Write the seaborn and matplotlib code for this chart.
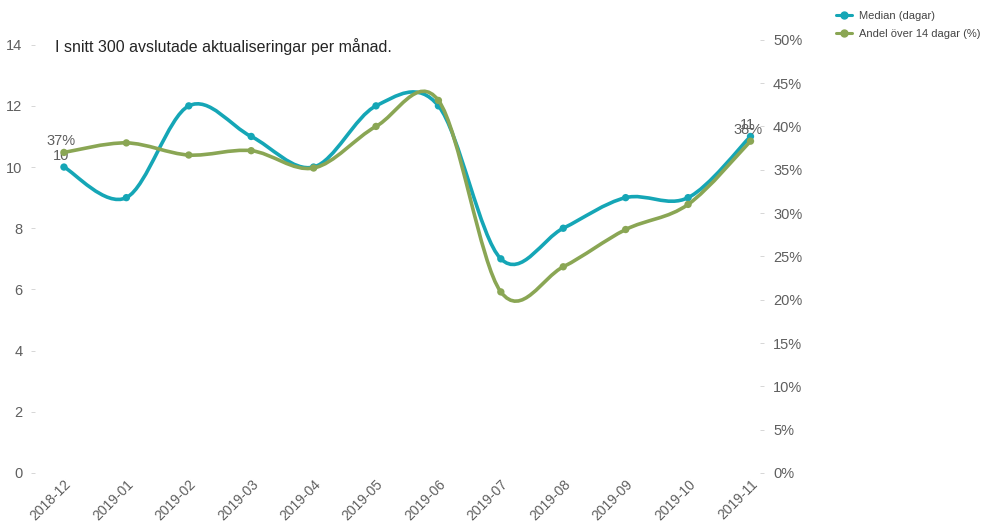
import numpy as np
import pandas as pd
import seaborn as sns
import matplotlib.pyplot as plt
from matplotlib.path import Path
from matplotlib.patches import PathPatch
from matplotlib.lines import Line2D
from matplotlib.ticker import PercentFormatter

# ---- data ----
months = ["2018-12", "2019-01", "2019-02", "2019-03", "2019-04", "2019-05",
          "2019-06", "2019-07", "2019-08", "2019-09", "2019-10", "2019-11"]
median_days = [10, 9, 12, 11, 10, 12, 12, 7, 8, 9, 9, 11]
share_over_14 = [0.37, 0.381, 0.367, 0.372, 0.352, 0.40, 0.43, 0.209, 0.238, 0.281, 0.31, 0.383]
note = "I snitt 300 avslutade aktualiseringar per månad."
# ----------------------------------

teal = "#15a6b6"
green = "#8aa654"
grey = "#5f5f5f"

sns.set_theme(style="white")
plt.rcParams["font.family"] = ["Liberation Sans", "DejaVu Sans"]

df = pd.DataFrame({"month": months, "idx": range(len(months)),
                   "median": median_days, "share": share_over_14})


def smooth_curve(ax, x, y, color):
    # catmull-rom style bezier through the points (rendering only)
    x = np.asarray(x, float)
    y = np.asarray(y, float)
    n = len(x)
    verts = [(x[0], y[0])]
    codes = [Path.MOVETO]
    for i in range(n - 1):
        p0 = i - 1 if i > 0 else i
        p3 = i + 2 if i + 2 < n else i + 1
        c1 = (x[i] + (x[i + 1] - x[p0]) / 6, y[i] + (y[i + 1] - y[p0]) / 6)
        c2 = (x[i + 1] - (x[p3] - x[i]) / 6, y[i + 1] - (y[p3] - y[i]) / 6)
        verts += [c1, c2, (x[i + 1], y[i + 1])]
        codes += [Path.CURVE4] * 3
    ax.add_patch(PathPatch(Path(verts, codes), facecolor="none",
                           edgecolor=color, lw=2.6, capstyle="round", zorder=3))


fig = plt.figure(figsize=(9.98, 5.27), dpi=100)
ax = fig.add_axes([0.035, 0.1025, 0.727, 0.822])
ax2 = ax.twinx()

smooth_curve(ax, df["idx"], df["median"], teal)
sns.scatterplot(data=df, x="idx", y="median", ax=ax, color=teal, s=28,
                edgecolor="none", zorder=4, legend=False)
smooth_curve(ax2, df["idx"], df["share"], green)
sns.scatterplot(data=df, x="idx", y="share", ax=ax2, color=green, s=28,
                edgecolor="none", zorder=4, legend=False)

ax.set_xlim(-0.465, 11.16)
ax.set_ylim(0, 14.16)
ax2.set_ylim(0, 0.5)
ax.set_yticks(range(0, 15, 2))
ax2.set_yticks(np.arange(0, 0.51, 0.05))
ax2.yaxis.set_major_formatter(PercentFormatter(1.0, decimals=0))

ax.set_xticks(df["idx"])
ax.set_xticklabels(months, rotation=45, ha="right", rotation_mode="anchor")
ax.set_xlabel("")
ax.set_ylabel("")
ax2.set_ylabel("")

for a in (ax, ax2):
    for s in a.spines.values():
        s.set_visible(False)
    a.tick_params(axis="y", length=3, width=0.6, color="#d0d0d0",
                  labelcolor=grey, labelsize=10.5, pad=6)
ax.tick_params(axis="x", length=0, labelcolor=grey, labelsize=10, pad=3)

# data labels on first and last points
for i in (0, len(months) - 1):
    ax.annotate(f"{median_days[i]}", (i, median_days[i]), xytext=(-2, 3),
                textcoords="offset points", ha="center", va="bottom",
                color=grey, fontsize=10.5, zorder=5)
    ax2.annotate(f"{share_over_14[i]:.0%}", (i, share_over_14[i]), xytext=(-2, 3),
                 textcoords="offset points", ha="center", va="bottom",
                 color=grey, fontsize=10.5, zorder=5)

fig.text(0.055, 0.912, note, fontsize=11.5, color="#252525", va="center")

handles = [Line2D([], [], color=teal, lw=2.2, marker="o", markersize=5),
           Line2D([], [], color=green, lw=2.2, marker="o", markersize=5)]
fig.legend(handles, ["Median (dagar)", "Andel över 14 dagar (%)"],
           loc="upper left", bbox_to_anchor=(0.828, 0.998), frameon=False,
           fontsize=8, handlelength=1.4, handletextpad=0.6, labelspacing=0.75,
           labelcolor="#444444")

fig.savefig("out.png", dpi=100)
